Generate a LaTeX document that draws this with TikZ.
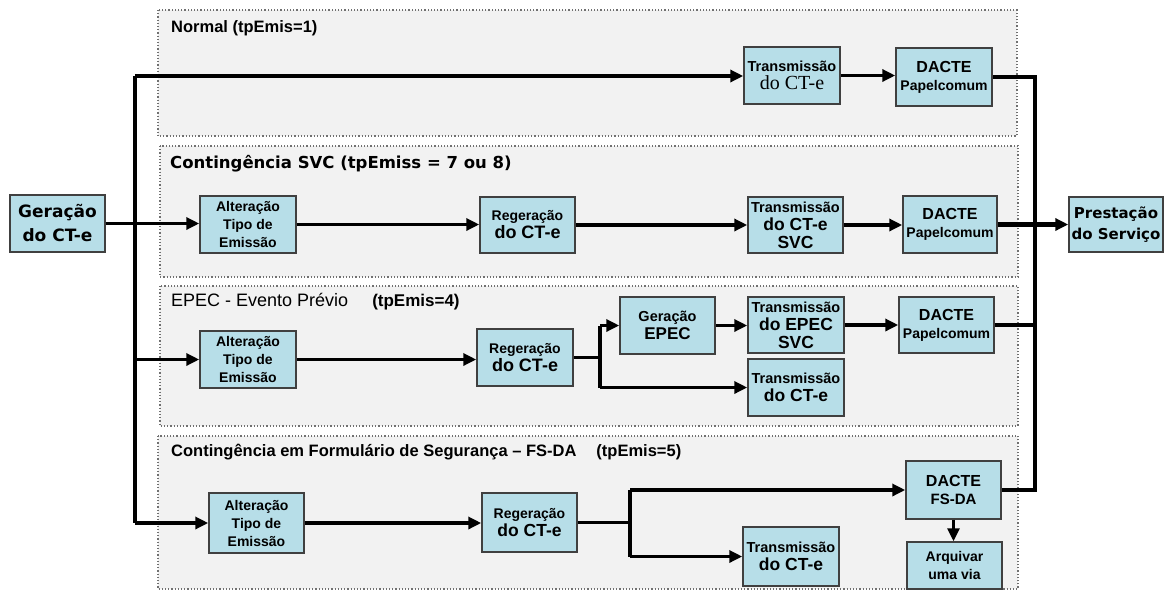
\documentclass[tikz,border=0pt]{standalone}
\usepackage{fontspec}
\setmainfont{Liberation Sans}
\newfontfamily\verd{DejaVu Sans}
\newfontfamily\timesf{Liberation Serif}
\usetikzlibrary{arrows.meta}
\definecolor{boxfill}{HTML}{B7DEE8}
\definecolor{boxline}{HTML}{404040}
\definecolor{panelfill}{HTML}{F2F2F2}
\definecolor{panelline}{HTML}{707070}
\newcommand\szS{\fontsize{14}{18}\selectfont}
\newcommand\szT{\fontsize{14.5}{18}\selectfont}
\newcommand\szM{\fontsize{16}{18}\selectfont}
\newcommand\szL{\fontsize{17.5}{18}\selectfont}
\begin{document}
\begin{tikzpicture}[x=1pt,y=-1pt,
  panel/.style={draw=panelline,fill=panelfill,dotted,line width=1.2pt},
  box/.style={draw=boxline,fill=boxfill,line width=1.5pt,align=center,inner sep=0pt,font=\bfseries\szS},
  wire/.style={line width=3.5pt},
  conn/.style={line width=3.5pt,-{Triangle[length=13pt,width=12pt]}},
  ttl/.style={anchor=west,inner sep=0pt}]
\useasboundingbox (0,0) rectangle (1165,590);
% panels
\draw[panel] (158,10) rectangle (1017,136);
\draw[panel] (160,146) rectangle (1018,277);
\draw[panel] (160,286) rectangle (1018,426);
\draw[panel] (158,436) rectangle (1018,589);
% titles
\node[ttl] (t1) at (171,28) {\bfseries\fontsize{16.5}{18}\selectfont Normal (tpEmis=1)};
\node[ttl] (t2) at (170,164) {\verd\bfseries\fontsize{16.5}{18}\selectfont Contingência SVC (tpEmiss = 7 ou 8)};
\node[ttl] (t3) at (171,302) {\fontsize{18}{20}\selectfont EPEC - Evento Prévio\hspace{24pt}\bfseries\fontsize{17}{20}\selectfont(tpEmis=4)};
\node[ttl] (t4) at (171,452) {\bfseries\fontsize{16.5}{18}\selectfont Contingência em Formulário de Segurança -- FS-DA\hspace{20pt}(tpEmis=5)};
% boxes
\node[box,minimum width=95pt,minimum height=57pt,font=\verd\bfseries\fontsize{17}{24}\selectfont] (ger) at (57.5,223.5) {Geração\\do CT-e};
\node[box,minimum width=94pt,minimum height=55pt,font=\verd\bfseries\fontsize{15}{21}\selectfont] (pres) at (1116,224.5) {Prestação\\do Serviço};
% normal
\node[box,minimum width=96pt,minimum height=57pt] (ntr) at (792,75.5) {\szT Transmissão\\\timesf\mdseries\fontsize{20}{22}\selectfont do CT-e};
\node[box,minimum width=96pt,minimum height=58pt] (nda) at (944,77) {\szM DACTE\\Papelcomum};
% svc
\node[box,minimum width=96pt,minimum height=57pt] (salt) at (248,224.5) {Alteração\\Tipo de\\Emissão};
\node[box,minimum width=95pt,minimum height=56pt] (sreg) at (527.5,225) {Regeração\\\fontsize{18}{20}\selectfont do CT-e};
\node[box,minimum width=95pt,minimum height=56pt] (str) at (795.5,225) {\szT Transmissão\\\szL do CT-e\\\szL SVC};
\node[box,minimum width=94pt,minimum height=57pt] (sda) at (950,224.5) {\szM DACTE\\Papelcomum};
% epec
\node[box,minimum width=96pt,minimum height=57pt] (ealt) at (248,359.5) {Alteração\\Tipo de\\Emissão};
\node[box,minimum width=96pt,minimum height=57pt] (ereg) at (525,357.5) {Regeração\\\fontsize{18}{20}\selectfont do CT-e};
\node[box,minimum width=95pt,minimum height=57pt] (egen) at (667.5,325.5) {\szT Geração\\\fontsize{17}{21}\selectfont EPEC};
\node[box,minimum width=96pt,minimum height=56pt] (etra) at (796,325) {\szT Transmissão\\\szL do EPEC\\\szL SVC};
\node[box,minimum width=96pt,minimum height=57pt] (etrb) at (796,387.5) {\szT Transmissão\\\fontsize{17.5}{21}\selectfont do CT-e};
\node[box,minimum width=95pt,minimum height=56pt] (eda) at (946.5,325) {\szM DACTE\\Papelcomum};
% fs-da
\node[box,minimum width=95pt,minimum height=60pt] (falt) at (256.5,523) {Alteração\\Tipo de\\Emissão};
\node[box,minimum width=95pt,minimum height=59pt] (freg) at (529.5,522.5) {Regeração\\\fontsize{17.5}{20}\selectfont do CT-e};
\node[box,minimum width=96pt,minimum height=59pt] (ftr) at (791,556.5) {\szT Transmissão\\\fontsize{17.5}{21}\selectfont do CT-e};
\node[box,minimum width=95pt,minimum height=58pt] (fda) at (953.5,490) {\szM DACTE\\\fontsize{15}{20}\selectfont FS-DA};
\node[box,minimum width=95pt,minimum height=47pt] (farq) at (954.5,565.5) {Arquivar\\uma via};
% coordinates
\coordinate (tk) at (135,76);
\coordinate (rc) at (1035,0);
\coordinate (eb) at (600,0);
\coordinate (fb) at (630,0);
% trunk
\draw[wire] (tk) -- (falt.west -| tk);
\draw[conn] (ger.east) -- (ger.east -| salt.west);
\draw[conn] (tk) -- (tk -| ntr.west);
\draw[conn] (ealt.west -| tk) -- (ealt.west);
\draw[conn] (falt.west -| tk) -- (falt.west);
% normal
\draw[conn] (ntr.east) -- (ntr.east -| nda.west);
% svc
\draw[conn] (salt.east) -- (salt.east -| sreg.west);
\draw[conn] (sreg.east) -- (sreg.east -| str.west);
\draw[conn] (str.east) -- (str.east -| sda.west);
\draw[conn,line width=4.5pt] (sda.east) -- (sda.east -| pres.west);
% right collector
\draw[wire] (nda.east) -- (nda.east -| rc) -- (fda.east -| rc) -- (fda.east);
\draw[wire] (eda.east) -- (eda.east -| rc);
% epec
\draw[conn] (ealt.east) -- (ealt.east -| ereg.west);
\draw[wire] (ereg.east) -- (ereg.east -| eb);
\draw[wire] (egen.west -| eb) -- (etrb.west -| eb);
\draw[conn] (egen.west -| eb) -- (egen.west);
\draw[conn] (etrb.west -| eb) -- (etrb.west);
\draw[conn] (egen.east) -- (egen.east -| etra.west);
\draw[conn] (etra.east) -- (etra.east -| eda.west);
% fs-da
\draw[conn] (falt.east) -- (falt.east -| freg.west);
\draw[wire] (freg.east) -- (freg.east -| fb);
\draw[wire] (fda.west -| fb) -- (ftr.west -| fb);
\draw[conn] (fda.west -| fb) -- (fda.west);
\draw[conn] (ftr.west -| fb) -- (ftr.west);
\draw[conn,line width=3pt] (fda.south) -- (fda.south |- farq.north);
\end{tikzpicture}
\end{document}
